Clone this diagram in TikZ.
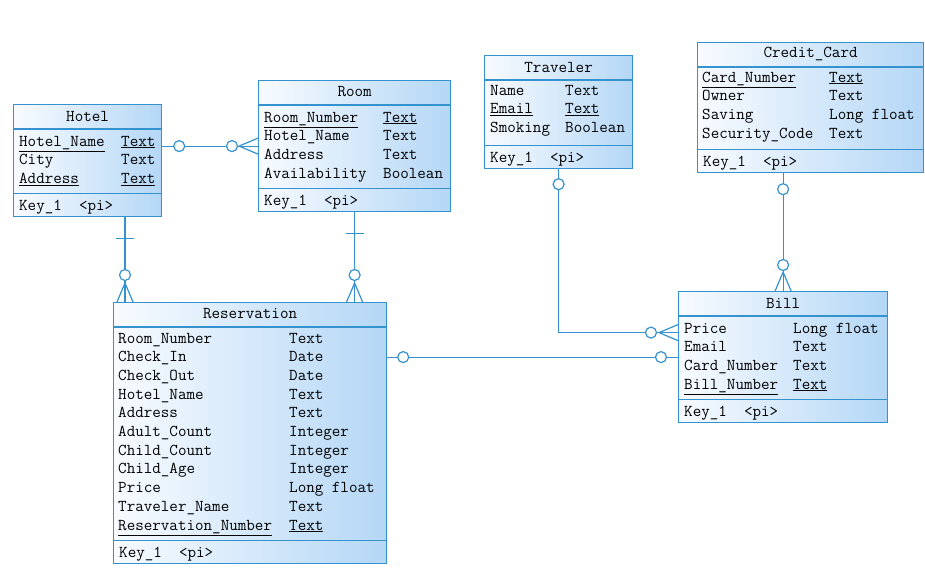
\documentclass[tikz,border=0pt]{standalone}
\usetikzlibrary{positioning}

\definecolor{erline}{RGB}{52,146,206}
\definecolor{erlight}{RGB}{248,251,255}
\definecolor{erdark}{RGB}{180,215,246}
\newcommand{\ertext}{\fontsize{16.6}{19}\selectfont\ttfamily}

\tikzset{
  entity/.style={draw=erline, line width=1.2pt, left color=erlight, right color=erdark,
                 anchor=north west, inner sep=0pt},
  divider/.style={draw=erline, line width=1.2pt},
  title/.style={font=\ertext, inner sep=0pt},
  attr/.style={font=\ertext, anchor=base west, inner sep=0pt},
  rel/.style={draw=erline, line width=1.2pt},
  zero/.style={circle, draw=erline, fill=white, line width=1.2pt, minimum size=11pt, inner sep=0pt},
}

\begin{document}
\begin{tikzpicture}[x=1pt,y=-1pt]
    \useasboundingbox (0,0) rectangle (925,570);

    % entities
    \node[entity, minimum width=148pt, minimum height=112pt] (hotel) at (13,104) {};
    \node[entity, minimum width=192pt, minimum height=131pt] (room) at (258,80) {};
    \node[entity, minimum width=148pt, minimum height=113pt] (trav) at (484,55) {};
    \node[entity, minimum width=226pt, minimum height=130pt] (card) at (697,42) {};
    \node[entity, minimum width=273pt, minimum height=261pt] (res) at (113,302) {};
    \node[entity, minimum width=209pt, minimum height=131pt] (bill) at (678,291) {};

    % titles, dividers and keys
    \foreach \ent/\name in {hotel/Hotel, room/Room, trav/Traveler, card/Credit\_Card, res/Reservation, bill/Bill} {
        \node[title] (\ent-title) at ([yshift=-12pt]\ent.north) {\name};
        \draw[divider] ([yshift=-25pt]\ent.north west) -- ([yshift=-25pt]\ent.north east);
        \draw[divider] ([yshift=24pt]\ent.south west) -- ([yshift=24pt]\ent.south east);
        \node[attr] (\ent-key) at ([xshift=6pt,yshift=7pt]\ent.south west) {Key\_1~~<pi>};
    }

    % attributes
    \foreach \nm/\ty [count=\i from 0] in {{\underline{Hotel\_Name}}/{\underline{Text}}, City/Text,
            {\underline{Address}}/{\underline{Text}}} {
        \node[attr] (hotel-n\i) at ([xshift=6pt,yshift={-42pt-18.7pt*\i}]hotel.north west) {\nm};
        \node[attr] (hotel-t\i) at ([xshift=108pt,yshift={-42pt-18.7pt*\i}]hotel.north west) {\ty};
    }
    \foreach \nm/\ty [count=\i from 0] in {{\underline{Room\_Number}}/{\underline{Text}}, Hotel\_Name/Text,
            Address/Text, Availability/Boolean} {
        \node[attr] (room-n\i) at ([xshift=6pt,yshift={-42pt-18.7pt*\i}]room.north west) {\nm};
        \node[attr] (room-t\i) at ([xshift=125pt,yshift={-42pt-18.7pt*\i}]room.north west) {\ty};
    }
    \foreach \nm/\ty [count=\i from 0] in {Name/Text, {\underline{Email}}/{\underline{Text}}, Smoking/Boolean} {
        \node[attr] (trav-n\i) at ([xshift=6pt,yshift={-40pt-18.7pt*\i}]trav.north west) {\nm};
        \node[attr] (trav-t\i) at ([xshift=81pt,yshift={-40pt-18.7pt*\i}]trav.north west) {\ty};
    }
    \foreach \nm/\ty [count=\i from 0] in {{\underline{Card\_Number}}/{\underline{Text}}, Owner/Text,
            Saving/Long float, Security\_Code/Text} {
        \node[attr] (card-n\i) at ([xshift=5pt,yshift={-40pt-18.7pt*\i}]card.north west) {\nm};
        \node[attr] (card-t\i) at ([xshift=132pt,yshift={-40pt-18.7pt*\i}]card.north west) {\ty};
    }
    \foreach \nm/\ty [count=\i from 0] in {Room\_Number/Text, Check\_In/Date, Check\_Out/Date,
            Hotel\_Name/Text, Address/Text, Adult\_Count/Integer, Child\_Count/Integer,
            Child\_Age/Integer, Price/Long float, Traveler\_Name/Text,
            {\underline{Reservation\_Number}}/{\underline{Text}}} {
        \node[attr] (res-n\i) at ([xshift=5pt,yshift={-41pt-18.7pt*\i}]res.north west) {\nm};
        \node[attr] (res-t\i) at ([xshift=176pt,yshift={-41pt-18.7pt*\i}]res.north west) {\ty};
    }
    \foreach \nm/\ty [count=\i from 0] in {Price/Long float, Email/Text, Card\_Number/Text,
            {\underline{Bill\_Number}}/{\underline{Text}}} {
        \node[attr] (bill-n\i) at ([xshift=6pt,yshift={-42pt-18.7pt*\i}]bill.north west) {\nm};
        \node[attr] (bill-t\i) at ([xshift=115pt,yshift={-42pt-18.7pt*\i}]bill.north west) {\ty};
    }

    % hotel - room
    \coordinate (hr) at (hotel.east |- room.west);
    \draw[rel] (hr) -- (room.west);
    \draw[rel] ([xshift=-19pt]room.west) -- ([yshift=8pt]room.west)
               ([xshift=-19pt]room.west) -- ([yshift=-8pt]room.west);
    \node[zero] (hr-z1) at ([xshift=17pt]hr) {};
    \node[zero] (hr-z2) at ([xshift=-26pt]room.west) {};

    % hotel - reservation
    \coordinate (hres) at ([xshift=12pt]res.north west);
    \coordinate (hres-top) at (hres |- hotel.south);
    \draw[rel] (hres-top) -- (hres);
    \draw[rel] ([xshift=-9pt,yshift=-21pt]hres-top) -- ([xshift=9pt,yshift=-21pt]hres-top);
    \draw[rel] ([yshift=19pt]hres) -- ([xshift=-8pt]hres)
               ([yshift=19pt]hres) -- ([xshift=8pt]hres);
    \node[zero] (hres-z) at ([yshift=27pt]hres) {};

    % room - reservation
    \coordinate (rres) at (room.south |- res.north);
    \draw[rel] (room.south) -- (rres);
    \draw[rel] ([xshift=-9pt,yshift=-21pt]room.south) -- ([xshift=9pt,yshift=-21pt]room.south);
    \draw[rel] ([yshift=19pt]rres) -- ([xshift=-8pt]rres)
               ([yshift=19pt]rres) -- ([xshift=8pt]rres);
    \node[zero] (rres-z) at ([yshift=27pt]rres) {};

    % traveler - bill
    \coordinate (tb) at ([yshift=24.5pt]bill.west);
    \draw[rel] (trav.south) |- (tb);
    \draw[rel] ([xshift=-19pt]tb) -- ([yshift=8pt]tb)
               ([xshift=-19pt]tb) -- ([yshift=-8pt]tb);
    \node[zero] (tb-z1) at ([yshift=-15pt]trav.south) {};
    \node[zero] (tb-z2) at ([xshift=-27pt]tb) {};

    % reservation - bill
    \coordinate (rb) at (res.east |- bill.west);
    \draw[rel] (rb) -- (bill.west);
    \node[zero] (rb-z1) at ([xshift=16pt]rb) {};
    \node[zero] (rb-z2) at ([xshift=-17pt]bill.west) {};

    % credit card - bill
    \coordinate (cb) at (bill.north |- card.south);
    \draw[rel] (cb) -- (bill.north);
    \draw[rel] ([yshift=19pt]bill.north) -- ([xshift=-8pt]bill.north)
               ([yshift=19pt]bill.north) -- ([xshift=8pt]bill.north);
    \node[zero] (cb-z1) at ([yshift=-16pt]cb) {};
    \node[zero] (cb-z2) at ([yshift=26pt]bill.north) {};
\end{tikzpicture}
\end{document}
